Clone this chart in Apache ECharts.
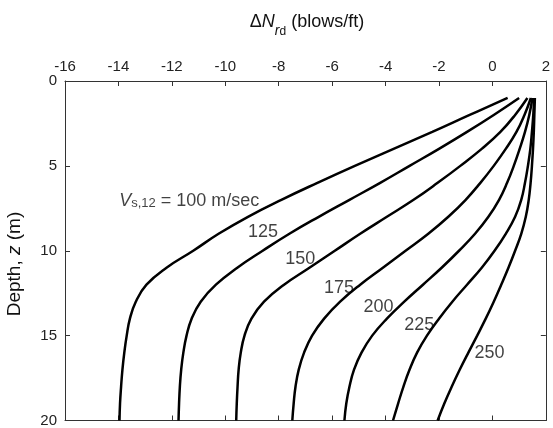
<!DOCTYPE html>
<html>
<head>
<meta charset="utf-8">
<script src="https://cdn.jsdelivr.net/npm/echarts@6/dist/echarts.min.js"></script>
<style>
  html, body {margin: 0; padding: 0; background: #fff;}
  #chart {width: 553px; height: 428px;}
</style>
</head>
<body>
<div id="chart"></div>
<script>
// depth (m) at which each curve is sampled
const depths = [1, 2, 3, 4, 5, 6, 7, 8, 9, 10, 11, 12, 13, 14, 15, 16, 17, 18, 19, 20];
// delta N_rd (blows/ft) per shear wave velocity
const vs100 = [0.57, -0.85, -2.25, -3.7, -5.15, -6.55, -7.9, -9.15, -10.25, -11.2, -12.2, -12.95, -13.35, -13.57, -13.69, -13.78, -13.85, -13.9, -13.94, -13.96];
const vs125 = [1.0, 0.05, -0.95, -2.0, -3.1, -4.2, -5.35, -6.5, -7.6, -8.6, -9.55, -10.35, -10.92, -11.26, -11.45, -11.57, -11.65, -11.7, -11.73, -11.75];
const vs150 = [1.31, 0.85, 0.3, -0.4, -1.2, -2.05, -2.95, -3.95, -4.95, -5.9, -6.85, -7.8, -8.55, -9.02, -9.28, -9.42, -9.5, -9.54, -9.57, -9.59];
const vs175 = [1.44, 1.2, 0.9, 0.5, 0.05, -0.45, -1.0, -1.65, -2.4, -3.25, -4.1, -4.95, -5.7, -6.3, -6.75, -7.05, -7.25, -7.37, -7.44, -7.49];
const vs200 = [1.5, 1.38, 1.22, 1.02, 0.8, 0.55, 0.25, -0.15, -0.65, -1.25, -1.9, -2.6, -3.3, -3.95, -4.5, -4.9, -5.18, -5.35, -5.47, -5.54];
const vs225 = [1.56, 1.53, 1.48, 1.42, 1.33, 1.22, 1.08, 0.85, 0.5, 0.08, -0.4, -0.95, -1.5, -2.0, -2.45, -2.82, -3.1, -3.33, -3.53, -3.72];
const vs250 = [1.59, 1.57, 1.55, 1.52, 1.48, 1.43, 1.36, 1.25, 1.08, 0.85, 0.6, 0.33, 0.05, -0.25, -0.57, -0.9, -1.22, -1.52, -1.8, -2.05];
const curves = [vs100, vs125, vs150, vs175, vs200, vs225, vs250];

// curve labels, anchored in data units
const labelText = ['{i|V}{s|s,12} = 100 m/sec', '125', '150', '175', '200', '225', '250'];
const labelX = [-11.35, -8.59, -7.19, -5.74, -4.26, -2.74, -0.11];
const labelDepth = [7.09, 8.88, 10.47, 12.18, 13.29, 14.35, 16.0];

// axes
const xMin = -16, xMax = 2, xStep = 2;
const yMin = 0, yMax = 20, yStep = 5;

const font = '"Liberation Sans", Arial, sans-serif';
const axisColor = '#333';

const myChart = echarts.init(document.getElementById('chart'));

const lineSeries = curves.map(xs => ({
  type: 'line',
  data: xs.map((x, i) => [x, depths[i]]),
  showSymbol: false,
  smooth: 0.45,
  lineStyle: {color: '#000', width: 2.5},
  silent: true,
}));

const labelSeries = {
  type: 'scatter',
  symbolSize: 0,
  silent: true,
  data: labelText.map((t, i) => ({value: [labelX[i], labelDepth[i]], name: t})),
  label: {
    show: true,
    position: 'inside',
    formatter: p => p.name,
    color: '#111',
    fontFamily: font,
    fontSize: 18,
    rich: {
      i: {fontStyle: 'italic', fontSize: 18, fontFamily: font, color: '#111'},
      s: {fontSize: 13, fontFamily: font, color: '#111', verticalAlign: 'bottom', lineHeight: 15},
    },
  },
};

const tickStyle = {show: true, inside: true, length: 5, lineStyle: {color: axisColor}};
const lineStyle = {show: true, onZero: false, lineStyle: {color: axisColor, width: 1}};

myChart.setOption({
  animation: false,
  grid: {left: 65, right: 2, top: 81, bottom: 7},
  xAxis: [
    {
      type: 'value', position: 'top', min: xMin, max: xMax, interval: xStep,
      axisLine: lineStyle,
      axisTick: tickStyle,
      splitLine: {show: false},
      axisLabel: {color: '#222', fontSize: 15, fontFamily: font, margin: 7},
    },
    {
      type: 'value', position: 'bottom', min: xMin, max: xMax, interval: xStep,
      axisLine: lineStyle,
      axisTick: tickStyle,
      splitLine: {show: false},
      axisLabel: {show: false},
    },
  ],
  yAxis: [
    {
      type: 'value', position: 'left', inverse: true, min: yMin, max: yMax, interval: yStep,
      axisLine: lineStyle,
      axisTick: tickStyle,
      splitLine: {show: false},
      axisLabel: {color: '#222', fontSize: 15, fontFamily: font, margin: 8},
    },
    {
      type: 'value', position: 'right', inverse: true, min: yMin, max: yMax, interval: yStep,
      axisLine: lineStyle,
      axisTick: tickStyle,
      splitLine: {show: false},
      axisLabel: {show: false},
    },
  ],
  graphic: [
    {
      type: 'text', x: 307, y: 22, silent: true,
      style: {
        text: '{a|Δ}{n|N}{r|r}{d|d}{a| (blows/ft)}',
        align: 'center', verticalAlign: 'middle',
        rich: {
          a: {fontSize: 18, fontFamily: font, fill: '#111', lineHeight: 32},
          n: {fontSize: 18, fontFamily: font, fontStyle: 'italic', fill: '#111', lineHeight: 32},
          r: {fontSize: 14, fontFamily: font, fontStyle: 'italic', fill: '#111', verticalAlign: 'bottom', lineHeight: 22},
          d: {fontSize: 12, fontFamily: font, fill: '#111', verticalAlign: 'bottom', lineHeight: 13},
        },
      },
    },
    {
      type: 'text', x: 15, y: 264, rotation: Math.PI / 2, silent: true,
      style: {
        text: 'Depth, {i|z} (m)',
        align: 'center', verticalAlign: 'middle',
        fontSize: 19, fontFamily: font, fill: '#111',
        rich: {i: {fontSize: 19, fontFamily: font, fontStyle: 'italic', fill: '#111'}},
      },
    },
  ],
  series: [...lineSeries, labelSeries],
});
</script>
</body>
</html>
